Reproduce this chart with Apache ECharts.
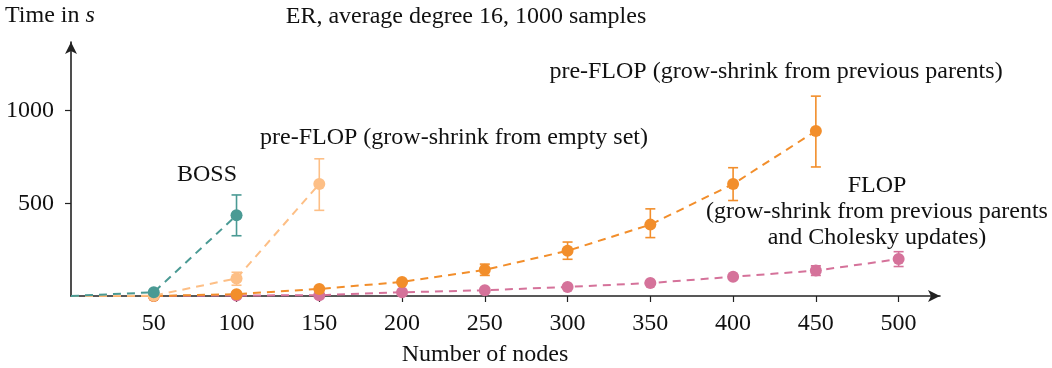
<!DOCTYPE html>
<html>
<head>
<meta charset="utf-8">
<script src="https://cdn.jsdelivr.net/npm/echarts@6/dist/echarts.min.js"></script>
<style>
  html, body { margin: 0; padding: 0; background: #fff; }
  #chart { width: 1052px; height: 368px; }
</style>
</head>
<body>
<div id="chart"></div>
<script>
// Runtime in seconds vs. number of nodes (ER graphs, average degree 16, 1000 samples)
const xTicks = [50, 100, 150, 200, 250, 300, 350, 400, 450, 500];
const yTicks = [500, 1000];

const bossNodes = [0, 50, 100];
const bossTime = [0, 20, 435];
const bossLow = [null, null, 325];
const bossHigh = [null, null, 545];

const preEmptyNodes = [0, 50, 100, 150];
const preEmptyTime = [0, 2, 95, 604];
const preEmptyLow = [null, null, 58, 462];
const preEmptyHigh = [null, null, 128, 740];

const prePrevNodes = [0, 50, 100, 150, 200, 250, 300, 350, 400, 450];
const prePrevTime = [0, 0, 10, 38, 76, 141, 244, 385, 604, 890];
const prePrevLow = [null, null, null, null, 68, 111, 198, 315, 515, 696];
const prePrevHigh = [null, null, null, null, 84, 172, 291, 470, 692, 1078];

const flopNodes = [0, 50, 100, 150, 200, 250, 300, 350, 400, 450, 500];
const flopTime = [0, 0, 3, 4, 20, 31, 49, 70, 104, 137, 199];
const flopLow = [null, null, null, null, null, null, null, null, 95, 111, 159];
const flopHigh = [null, null, null, null, null, null, null, null, 113, 163, 239];

const colors = {
  boss: '#4a9a94',
  preEmpty: '#fdbf86',
  prePrev: '#f28e2b',
  flop: '#d5729a'
};

const FONT = '"Liberation Serif", "DejaVu Serif", serif';
const FS = 24;

function points(xs, ys) {
  return xs.map((x, i) => i === 0 ? { value: [x, ys[i]], symbol: 'none' } : [x, ys[i]]);
}
function bars(xs, lo, hi) {
  const out = [];
  xs.forEach((x, i) => { if (lo[i] != null) out.push([x, lo[i], hi[i]]); });
  return out;
}

function renderErr(params, api) {
  const x = api.value(0);
  const a = api.coord([x, api.value(1)]);
  const b = api.coord([x, api.value(2)]);
  const w = 5;
  const style = { stroke: api.visual('color'), lineWidth: 1.6, fill: null };
  return {
    type: 'group',
    children: [
      { type: 'line', shape: { x1: a[0], y1: a[1], x2: b[0], y2: b[1] }, style },
      { type: 'line', shape: { x1: a[0] - w, y1: a[1], x2: a[0] + w, y2: a[1] }, style },
      { type: 'line', shape: { x1: b[0] - w, y1: b[1], x2: b[0] + w, y2: b[1] }, style }
    ]
  };
}

function lineSeries(name, xs, ys, color, z) {
  return {
    name, type: 'line', z,
    data: points(xs, ys),
    symbol: 'circle', symbolSize: 12,
    lineStyle: { color, width: 2, type: [8, 6] },
    itemStyle: { color },
    animation: false
  };
}
function errSeries(name, xs, lo, hi, color, z) {
  return {
    name: name + ' err', type: 'custom', z,
    data: bars(xs, lo, hi),
    encode: { x: 0, y: [1, 2] },
    itemStyle: { color },
    renderItem: renderErr,
    animation: false
  };
}

const chart = echarts.init(document.getElementById('chart'), null, { renderer: 'canvas' });

const axisText = { color: '#111', fontFamily: FONT, fontSize: FS, formatter: v => String(v) };

chart.setOption({
  animation: false,
  grid: { left: 71, right: 112, top: 42, bottom: 72, containLabel: false },
  xAxis: {
    type: 'value', min: 0, max: 525, interval: 50,
    splitLine: { show: false },
    axisLine: { show: true, onZero: false, lineStyle: { color: '#222', width: 1.6 },
                symbol: ['none', 'arrow'], symbolSize: [9, 12] },
    axisTick: { show: true, length: 6, lineStyle: { color: '#222', width: 1.2 }, customValues: xTicks },
    axisLabel: { ...axisText, margin: 16, customValues: xTicks }
  },
  yAxis: {
    type: 'value', min: 0, max: 1370, interval: 500,
    splitLine: { show: false },
    axisLine: { show: true, onZero: false, lineStyle: { color: '#222', width: 1.6 },
                symbol: ['none', 'arrow'], symbolSize: [9, 12] },
    axisTick: { show: true, length: 6, lineStyle: { color: '#222', width: 1.2 }, customValues: yTicks },
    axisLabel: { ...axisText, margin: 17, customValues: yTicks }
  },
  graphic: [
    { type: 'text', left: 5, top: 4, style: {
        text: '{n|Time in }{i|s}', fill: '#111',
        rich: { n: { fontFamily: FONT, fontSize: FS }, i: { fontFamily: FONT, fontSize: FS, fontStyle: 'italic' } } } },
    { type: 'text', x: 466, y: 17, style: { text: 'ER, average degree 16, 1000 samples', font: FS + 'px ' + FONT,
        fill: '#111', align: 'center', verticalAlign: 'middle' } },
    { type: 'text', x: 485, y: 355, style: { text: 'Number of nodes', font: FS + 'px ' + FONT,
        fill: '#111', align: 'center', verticalAlign: 'middle' } },
    { type: 'text', x: 207, y: 175, style: { text: 'BOSS', font: FS + 'px ' + FONT,
        fill: '#111', align: 'center', verticalAlign: 'middle' } },
    { type: 'text', x: 454, y: 138, style: { text: 'pre-FLOP (grow-shrink from empty set)', font: FS + 'px ' + FONT,
        fill: '#111', align: 'center', verticalAlign: 'middle' } },
    { type: 'text', x: 776, y: 72, style: { text: 'pre-FLOP (grow-shrink from previous parents)', font: FS + 'px ' + FONT,
        fill: '#111', align: 'center', verticalAlign: 'middle' } },
    { type: 'text', x: 877, y: 212, style: { text: 'FLOP\n(grow-shrink from previous parents\nand Cholesky updates)',
        font: FS + 'px ' + FONT, lineHeight: 26, fill: '#111', align: 'center', verticalAlign: 'middle' } }
  ],
  series: [
    errSeries('FLOP', flopNodes, flopLow, flopHigh, colors.flop, 2),
    lineSeries('FLOP', flopNodes, flopTime, colors.flop, 3),
    errSeries('pre-FLOP prev', prePrevNodes, prePrevLow, prePrevHigh, colors.prePrev, 4),
    lineSeries('pre-FLOP prev', prePrevNodes, prePrevTime, colors.prePrev, 5),
    errSeries('pre-FLOP empty', preEmptyNodes, preEmptyLow, preEmptyHigh, colors.preEmpty, 6),
    lineSeries('pre-FLOP empty', preEmptyNodes, preEmptyTime, colors.preEmpty, 7),
    errSeries('BOSS', bossNodes, bossLow, bossHigh, colors.boss, 8),
    lineSeries('BOSS', bossNodes, bossTime, colors.boss, 9)
  ]
});
</script>
</body>
</html>
